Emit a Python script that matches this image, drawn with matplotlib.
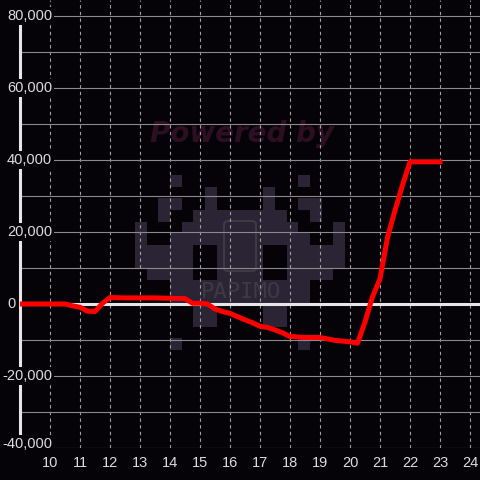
import matplotlib
matplotlib.use('Agg')
import matplotlib.pyplot as plt
from matplotlib.patches import Rectangle, FancyBboxPatch
import matplotlib.transforms as mtransforms

# data
hours = [9.0, 10.5, 10.75, 11.0, 11.25, 11.5, 11.75, 12.0, 12.5, 13.5, 14.5,
         14.75, 15.0, 15.25, 15.5, 15.75, 16.0, 16.25, 16.5, 16.75, 17.0,
         17.25, 17.5, 17.75, 18.0, 18.5, 19.0, 19.5, 19.75, 20.0, 20.25,
         20.5, 20.75, 21.0, 21.25, 21.5, 21.75, 22.0, 23.0]
values = [0, 0, -500, -900, -2000, -2100, 200, 1800, 1700, 1700, 1500,
          200, 200, 0, -1400, -2100, -2600, -3500, -4400, -5200, -6200,
          -6500, -7200, -8000, -9000, -9300, -9300, -10100, -10300, -10500, -10900,
          -5000, 2000, 7000, 18500, 26000, 33000, 39500, 39500]
x_ticks = list(range(10, 25))
y_labels = [80000, 60000, 40000, 20000, 0, -20000, -40000]
y_grid = list(range(-40000, 80001, 10000))

bg = '#050308'
txt = '#dcdcdc'
plt.rcParams['font.family'] = ['Liberation Sans', 'DejaVu Sans']

fig = plt.figure(figsize=(4.8, 4.8), dpi=100, facecolor=bg)

# watermark layer (pixel coordinates)
wm = fig.add_axes([0, 0, 1, 1], zorder=0)
wm.set_xlim(0, 480)
wm.set_ylim(480, 0)
wm.axis('off')
wm.set_facecolor(bg)
invader = [
    "...X..........X...",
    "......X....X......",
    "..XX..X....X..XX..",
    "..X..XXXXXXXX..X..",
    "X...XXXXXXXXXX...X",
    "X..XXXXXXXXXXXX..X",
    "XXXXX..XXXX..XXXXX",
    "XXXXX..XXXX..XXXXX",
    ".XXXX..XXXX..XXXX.",
    "...XXXXXXXXXXXX...",
    "...XXXXXXXXXXXX...",
    ".....XX....XX.....",
    ".....XX....XX.....",
    "..................",
    "...X..........X...",
]
cell = 11.67
for r, row in enumerate(invader):
    for c, ch in enumerate(row):
        if ch == 'X':
            wm.add_patch(Rectangle((135 + c * cell, 175 + r * cell), cell, cell,
                                   facecolor='#2a2435', edgecolor='none'))
wm.add_patch(FancyBboxPatch((224, 221), 32, 50, boxstyle='round,pad=0,rounding_size=4',
                            facecolor='none', edgecolor='#3e3a44', lw=1.5))
wm.text(241, 292, 'PAPIMO', ha='center', va='center', fontsize=16,
        family='DejaVu Sans Mono', color='#3e3a44')
wm.text(242, 134, 'Powered by', ha='center', va='center', fontsize=20,
        family='DejaVu Sans', weight='bold', style='italic', color='#2e0f22')

# main chart
ax = fig.add_axes([20 / 480, 32 / 480, 460 / 480, 448 / 480], zorder=1)
ax.patch.set_alpha(0)
ax.set_xlim(9, 9 + 460 / 30)
ax.set_ylim(-40000, 80000 + 16 / 36 * 10000)

ax.set_xticks(x_ticks)
ax.set_yticks(y_grid)
ax.set_axisbelow(True)
ax.yaxis.grid(True, color='#8a8a8a', lw=0.8)
ax.xaxis.grid(True, color='#a0a0a0', lw=0.8, linestyle=(0, (3, 3)))
ax.tick_params(axis='x', length=0, pad=5.5, labelsize=10.5, labelcolor=txt)
ax.tick_params(axis='y', length=0, labelleft=False)

for s in ['top', 'right', 'bottom']:
    ax.spines[s].set_visible(False)
ax.spines['left'].set_color('#e6e6e6')
ax.spines['left'].set_linewidth(2.2)
ax.spines['left'].set_bounds(-40000, 80000)

ax.axhline(0, color='#e6e6e6', lw=2.2, zorder=2)
ax.plot(hours, values, color='#ff0000', lw=3.6, zorder=3, solid_joinstyle='round')

trans = mtransforms.blended_transform_factory(ax.transAxes, ax.transData)
for v in y_labels:
    xpos = (2 - 20) / 460 if v < 0 else (7 - 20) / 460
    va = 'baseline' if v == y_labels[-1] else 'center'
    ax.text(xpos, v, f'{v:,}', transform=trans, ha='left', va=va, fontsize=10.5,
            color=txt, zorder=5, clip_on=False,
            bbox=dict(boxstyle='square,pad=0.15', facecolor=bg, edgecolor='none'))

fig.savefig('out.png', dpi=100, facecolor=bg)
